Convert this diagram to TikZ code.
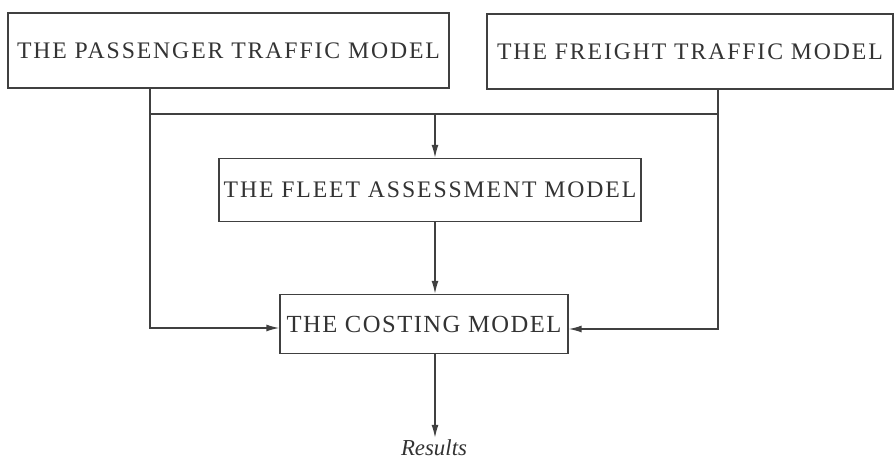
\documentclass[tikz,border=0pt]{standalone}
\usepackage{fontspec}
\setmainfont{Liberation Serif}
\usetikzlibrary{arrows.meta}

\begin{document}
\begin{tikzpicture}[x=0.02cm, y=-0.02cm,
        model/.style={draw=black!75, line width=0.8pt, text=black!80, inner sep=0pt,
            font=\fontsize{13.5}{16}\selectfont\addfontfeature{LetterSpace=8}},
        link/.style={draw=black!75, line width=0.8pt},
        feed/.style={link, -{Latex[length=0.26cm, width=0.14cm]}}]
        % 画布
        \useasboundingbox (0,0) rectangle (894,462);

        % 四个模型
        \node[model, minimum width=8.82cm, minimum height=1.5cm] (passenger) at (228.5, 50.5) {THE PASSENGER TRAFFIC MODEL};
        \node[model, minimum width=8.12cm, minimum height=1.5cm] (freight) at (690, 51.5) {THE FREIGHT TRAFFIC MODEL};
        \node[model, minimum width=8.44cm, minimum height=1.26cm] (fleet) at (430, 190) {THE FLEET ASSESSMENT MODEL};
        \node[model, minimum width=5.76cm, minimum height=1.18cm,
            font=\fontsize{14}{16}\selectfont\addfontfeature{LetterSpace=6}] (costing) at (424, 324) {THE COSTING MODEL};
        \node[text=black!80, font=\fontsize{13}{15}\selectfont\itshape, inner sep=1pt] (results) at (434, 448) {Results};

        % 汇合线
        \coordinate (pdrop) at (150, 114);
        \coordinate (fdrop) at (718, 114);
        \coordinate (bus) at (435, 114);
        \draw[link] (passenger.south -| pdrop) -- (pdrop) -- (fdrop) -- (freight.south -| fdrop);

        % 箭头
        \draw[feed] (bus) -- (bus |- fleet.north);
        \draw[feed] (fleet.south -| bus) -- (costing.north -| bus);
        \draw[feed] (pdrop) |- ([yshift=-0.08cm]costing.west);
        \draw[feed] (fdrop) |- ([yshift=-0.1cm]costing.east);
        \draw[feed] (costing.south -| bus) -- (results.north -| bus);
    \end{tikzpicture}
\end{document}
